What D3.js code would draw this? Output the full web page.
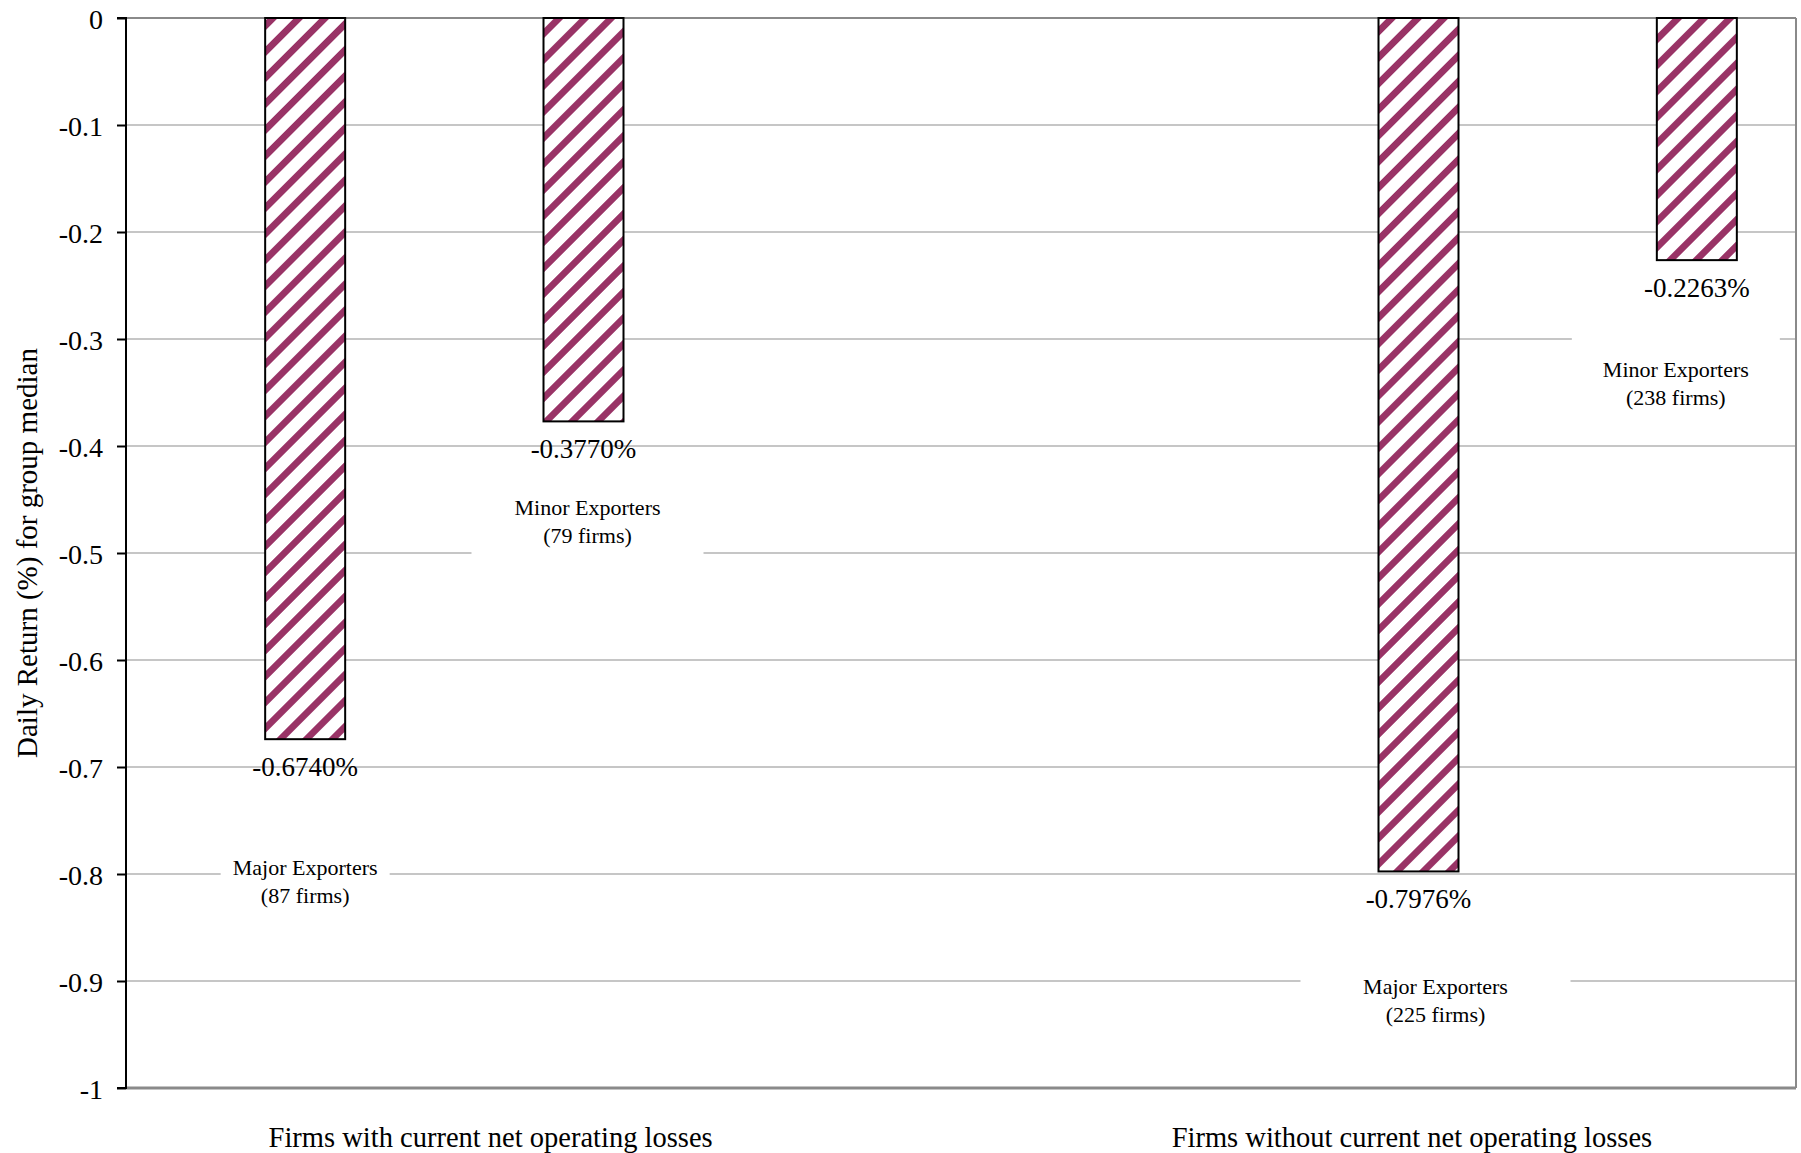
<!DOCTYPE html>
<html>
<head>
<meta charset="utf-8">
<script src="https://cdn.jsdelivr.net/npm/d3@7"></script>
<style>
  html, body { margin: 0; padding: 0; background: #fff; }
  svg { display: block; }
  text { font-family: "Liberation Serif", "Times New Roman", serif; fill: #000; }
</style>
</head>
<body>
<script>
// ---------------- data ----------------
const groups = ["Firms with current net operating losses", "Firms without current net operating losses"];
const seriesNames = ["Major Exporters", "Minor Exporters"];
const majorValues = [-0.6740, -0.7976];
const minorValues = [-0.3770, -0.2263];
const majorFirms = [87, 225];
const minorFirms = [79, 238];
const yTicks = [0, -0.1, -0.2, -0.3, -0.4, -0.5, -0.6, -0.7, -0.8, -0.9, -1];
const yTitle = "Daily Return (%) for group median";
// category slots along the x axis (two empty slots separate the groups)
const slots = ["g0-major", "g0-minor", "gap-a", "gap-b", "g1-major", "g1-minor"];

// ---------------- layout ----------------
const W = 1801, H = 1153;
const plot = { left: 126, right: 1796, top: 18, bottom: 1088 };
const barWidth = 80;
const plum = "#993366";
// series-label placement: dx from bar centre, baseline offset below bar end, box width
const labelLayout = [
  { dx: 0,   dy: 136, box: 169 },
  { dx: 4,   dy: 94,  box: 232 },
  { dx: 17,  dy: 123, box: 270 },
  { dx: -21, dy: 117, box: 208 }
];
const groupLabelPos = [1.31, 4.62]; // in slot units along the x axis

const fmtLocale = d3.formatLocale({ decimal: ".", thousands: ",", grouping: [3], currency: ["", ""], minus: "-" });
const fmtVal = fmtLocale.format(".4f");
const fmtTick = fmtLocale.format("");

// build rows
const rows = [];
groups.forEach((g, gi) => {
  rows.push({ slot: slots[gi * 4], series: seriesNames[0], value: majorValues[gi], firms: majorFirms[gi] });
  rows.push({ slot: slots[gi * 4 + 1], series: seriesNames[1], value: minorValues[gi], firms: minorFirms[gi] });
});
rows.forEach((r, i) => r.layout = labelLayout[i]);

const x = d3.scaleBand().domain(slots).range([plot.left, plot.right]).padding(0);
const xi = d3.scaleLinear().domain([0, slots.length]).range([plot.left, plot.right]);
const y = d3.scaleLinear().domain([0, -1]).range([plot.top, plot.bottom]);

const svg = d3.select("body").append("svg").attr("width", W).attr("height", H);
svg.append("rect").attr("width", W).attr("height", H).attr("fill", "#fff");

const P = 18.4;
const defs = svg.append("defs");
const pat = defs.append("pattern").attr("id", "hatch")
  .attr("patternUnits", "userSpaceOnUse")
  .attr("width", P).attr("height", P)
  .attr("patternTransform", "rotate(45)");
pat.append("rect").attr("width", P).attr("height", P).attr("fill", "#fff");
pat.append("rect").attr("x", 0).attr("width", 6.4).attr("height", P).attr("fill", plum)
  .attr("shape-rendering", "crispEdges");

// gridlines
svg.append("g").selectAll("line").data(yTicks.filter(t => t !== 0 && t !== -1)).join("line")
  .attr("x1", plot.left).attr("x2", plot.right)
  .attr("y1", d => y(d)).attr("y2", d => y(d))
  .attr("stroke", "#c6c6c6").attr("stroke-width", 2);

// plot border (top, right, bottom)
svg.append("line").attr("x1", plot.left).attr("x2", plot.right).attr("y1", y(0)).attr("y2", y(0))
  .attr("stroke", "#8a8a8a").attr("stroke-width", 2);
svg.append("line").attr("x1", plot.right).attr("x2", plot.right).attr("y1", y(0)).attr("y2", y(-1))
  .attr("stroke", "#8a8a8a").attr("stroke-width", 2);
svg.append("line").attr("x1", plot.left).attr("x2", plot.right).attr("y1", y(-1)).attr("y2", y(-1))
  .attr("stroke", "#8a8a8a").attr("stroke-width", 3);

const barX = d => x(d.slot) + x.bandwidth() / 2;
const barC = d => barX(d) + barWidth / 2;

// series labels with white boxes
const lab = svg.append("g").selectAll("g").data(rows).join("g")
  .attr("transform", d => `translate(${barC(d) + d.layout.dx},${y(d.value) + d.layout.dy})`);
lab.append("rect")
  .attr("x", d => -d.layout.box / 2).attr("width", d => d.layout.box)
  .attr("y", -45).attr("height", 90).attr("fill", "#fff");
lab.append("text").attr("text-anchor", "middle").attr("font-size", 22)
  .text(d => d.series);
lab.append("text").attr("text-anchor", "middle").attr("font-size", 22).attr("y", 28)
  .text(d => `(${d.firms} firms)`);

// bars
svg.append("g").selectAll("rect").data(rows).join("rect")
  .attr("x", barX).attr("width", barWidth)
  .attr("y", d => y(Math.max(0, d.value)))
  .attr("height", d => Math.abs(y(d.value) - y(0)))
  .attr("fill", "url(#hatch)")
  .attr("stroke", "#000").attr("stroke-width", 2);

// value labels
svg.append("g").selectAll("text").data(rows).join("text")
  .attr("x", barC).attr("y", d => y(d.value) + 37)
  .attr("text-anchor", "middle").attr("font-size", 27)
  .text(d => fmtVal(d.value) + "%");

// y axis
const yAxis = d3.axisLeft(y).tickValues(yTicks).tickSize(9).tickPadding(14).tickFormat(fmtTick);
const ga = svg.append("g").attr("transform", `translate(${plot.left},0)`).call(yAxis);
ga.select(".domain").attr("stroke", "#000").attr("stroke-width", 2).attr("d", `M-9,${y(0)}H0V${y(-1)}H-9`);
ga.selectAll(".tick line").attr("stroke", "#000").attr("stroke-width", 2);
ga.selectAll(".tick text").attr("font-size", 28).attr("dy", "0.38em")
  .attr("font-family", "'Liberation Serif', 'Times New Roman', serif").attr("fill", "#000");

// y title
svg.append("text").attr("transform", `translate(37,553) rotate(-90)`)
  .attr("text-anchor", "middle").attr("font-size", 29).text(yTitle);

// group labels
svg.append("g").selectAll("text").data(groups).join("text")
  .attr("x", (d, i) => xi(groupLabelPos[i])).attr("y", 1147)
  .attr("text-anchor", "middle").attr("font-size", 28.5)
  .text(d => d);
</script>
</body>
</html>
